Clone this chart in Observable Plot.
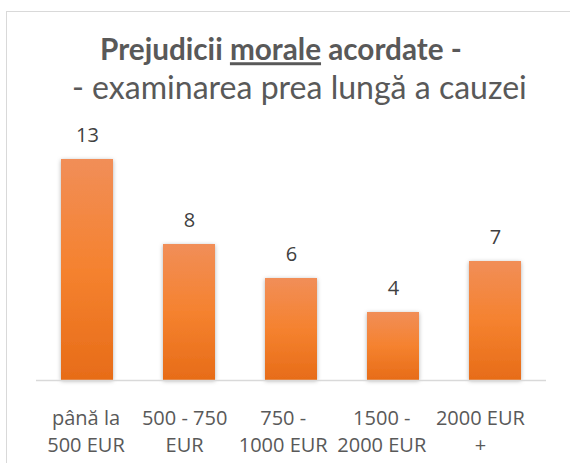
<!DOCTYPE html>
<html>
<head>
<meta charset="utf-8">
<script src="https://cdn.jsdelivr.net/npm/d3@7"></script>
<script src="https://cdn.jsdelivr.net/npm/@observablehq/plot@0.6"></script>
<style>
  html, body { margin: 0; padding: 0; background: #fff; }
  #wrap { position: relative; width: 570px; height: 463px; overflow: hidden; font-family: 'Open Sans', sans-serif; }
  #frame { position: absolute; left: 6px; top: 11px; width: 700px; height: 600px; border-top: 1px solid #d9d9d9; border-left: 1px solid #d9d9d9; }
  #chart { position: absolute; left: 0; top: 0; }
  #title { position: absolute; left: 0; top: 0; }
</style>
</head>
<body>
<div id="wrap">
  <div id="frame"></div>
  <div id="chart"></div>
  <svg id="title" width="570" height="125" font-family="Lato, 'Open Sans', sans-serif" fill="#595959">
    <text id="t1" x="100" y="61.5" font-weight="bold" font-size="27">Prejudicii <tspan text-decoration="underline" style="text-decoration: underline">morale</tspan> acordate -</text>
    <text id="t2" x="72" y="97.5" font-size="30">- examinarea prea lungă a cauzei</text>
  </svg>
</div>
<script>
const categories = ["până la\n500 EUR", "500 - 750\nEUR", "750 -\n1000 EUR", "1500 -\n2000 EUR", "2000 EUR\n+"];
const values = [13, 8, 6, 4, 7];

const data = categories.map((c, i) => ({cat: c, value: values[i]}));

const labelMarks = categories.map((c, i) =>
  Plot.text([data[i]], {
    x: "cat", y: () => 0, text: "cat",
    lineAnchor: "top", dy: 25.8, dx: -1.5 - 3.4 * i,
    fontSize: 20, lineHeight: 1.35, fill: "#595959"
  })
);

const chart = Plot.plot({
  width: 570, height: 463,
  marginTop: 142, marginBottom: 83, marginLeft: 36, marginRight: 24,
  x: {domain: categories, paddingInner: 0.49, paddingOuter: 0.245, axis: null},
  y: {domain: [0, 14], axis: null},
  style: {fontFamily: "'Open Sans', sans-serif", background: "transparent", overflow: "visible"},
  marks: [
    Plot.barY(data, {x: "cat", y: "value", fill: "url(#barGrad)"}),
    Plot.ruleY([0], {stroke: "#d9d9d9", strokeWidth: 1.5}),
    Plot.text(data, {x: "cat", y: "value", text: d => String(d.value), dy: -24.4, lineAnchor: "middle", fontSize: 20, fill: "#404040"}),
    ...labelMarks
  ]
});

const svg = d3.select(chart);
const defs = svg.insert("defs", ":first-child");
const g = defs.append("linearGradient").attr("id", "barGrad").attr("x1", 0).attr("y1", 0).attr("x2", 0).attr("y2", 1);
g.append("stop").attr("offset", "0%").attr("stop-color", "#F18E58");
g.append("stop").attr("offset", "50%").attr("stop-color", "#F5822F");
g.append("stop").attr("offset", "100%").attr("stop-color", "#E76C18");
const f = defs.append("filter").attr("id", "barShadow").attr("x", "-30%").attr("y", "-10%").attr("width", "160%").attr("height", "120%");
f.append("feDropShadow").attr("dx", 0).attr("dy", 1).attr("stdDeviation", 2.2).attr("flood-color", "#000").attr("flood-opacity", 0.3);
svg.selectAll('g[aria-label="bar"] rect').attr("filter", "url(#barShadow)");

document.getElementById("chart").appendChild(chart);

// fit title lines to the reference widths and keep them from overlapping
const t1 = document.getElementById("t1"), t2 = document.getElementById("t2");
function fit(el, target) {
  const s = parseFloat(el.getAttribute("font-size"));
  const w = el.getComputedTextLength();
  el.setAttribute("font-size", (s * target / w).toFixed(2));
}
fit(t1, 362);
fit(t2, 455);
const b1 = t1.getBBox(), b2 = t2.getBBox();
const overlap = (b1.y + b1.height) - b2.y;
if (overlap > -0.5) {
  const d = (overlap + 0.5) / 2;
  t1.setAttribute("y", 61.5 - d);
  t2.setAttribute("y", 97.5 + d);
}
</script>
</body>
</html>
